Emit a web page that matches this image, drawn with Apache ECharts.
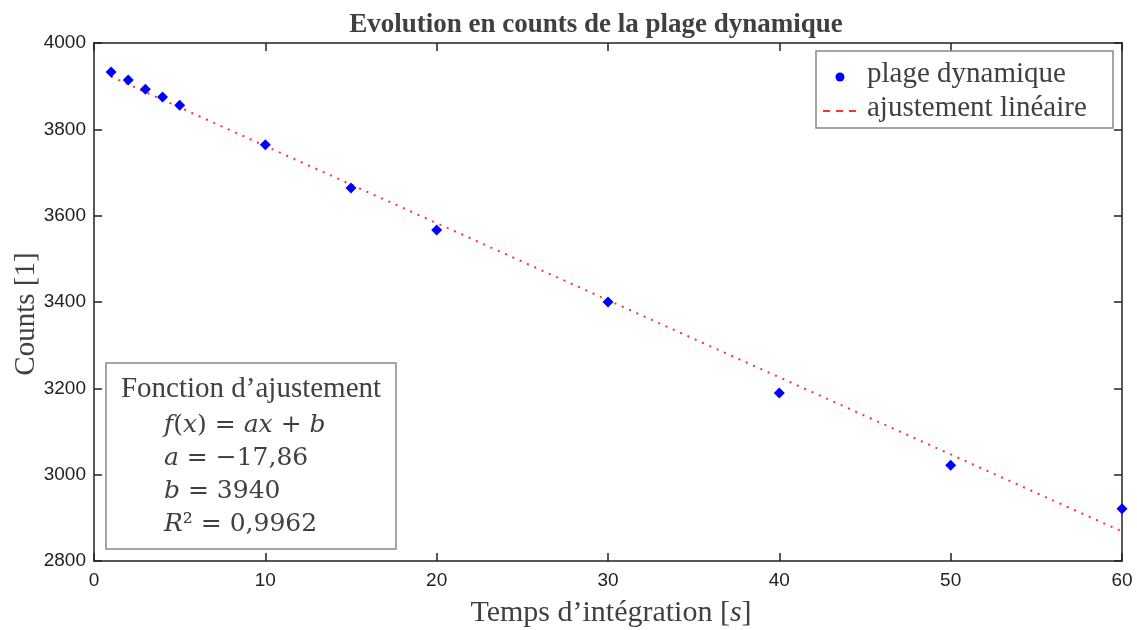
<!DOCTYPE html>
<html>
<head>
<meta charset="utf-8">
<script src="https://cdn.jsdelivr.net/npm/echarts@6/dist/echarts.min.js"></script>
<style>
  html, body { margin: 0; padding: 0; background: #fff; }
  #chart { width: 1137px; height: 630px; }
</style>
</head>
<body>
<div id="chart"></div>
<script>
// Integration time [s] and measured dynamic range [counts]
const integrationTimes = [1, 2, 3, 4, 5, 10, 15, 20, 30, 40, 50, 60];
const dynamicRange = [3933, 3914, 3893, 3875, 3856, 3764, 3664, 3567, 3400, 3189, 3022, 2921];

// Linear fit parameters f(x) = a x + b
const fitA = -17.86;
const fitB = 3940;
const fitR2 = '0,9962';
const fitRange = [1, 60];

const xTicks = [0, 10, 20, 30, 40, 50, 60];
const yTicks = [2800, 3000, 3200, 3400, 3600, 3800, 4000];

const pointData = integrationTimes.map((t, i) => [t, dynamicRange[i]]);
const fitData = fitRange.map(t => [t, fitA * t + fitB]);

const serif = '"Liberation Serif", "Times New Roman", serif';
const mathFont = '"DejaVu Serif", serif';
const sans = '"Liberation Sans", Arial, sans-serif';
const axisColor = '#222';
const textColor = '#404040';

const chart = echarts.init(document.getElementById('chart'), null, { renderer: 'canvas' });

const baseX = {
  type: 'value', min: xTicks[0], max: xTicks[xTicks.length - 1], interval: 10,
  axisLine: { onZero: false, lineStyle: { color: axisColor, width: 1.5 } },
  axisTick: { inside: true, length: 8, lineStyle: { color: axisColor, width: 1.5 } },
  splitLine: { show: false }
};
const baseY = {
  type: 'value', min: yTicks[0], max: yTicks[yTicks.length - 1], interval: 200,
  axisLine: { onZero: false, lineStyle: { color: axisColor, width: 1.5 } },
  axisTick: { inside: true, length: 8, lineStyle: { color: axisColor, width: 1.5 } },
  splitLine: { show: false }
};

const legendX = 816, legendY = 51;
const boxX = 106, boxY = 363;
const mathRich = { i: { fontFamily: mathFont, fontStyle: 'italic', fontSize: 25, fill: textColor } };

chart.setOption({
  animation: false,
  backgroundColor: '#fff',
  title: {
    text: 'Evolution en counts de la plage dynamique',
    left: 591, top: 7, textAlign: 'center',
    textStyle: { fontFamily: serif, fontWeight: 'bold', fontSize: 27, color: textColor }
  },
  grid: { left: 94, right: 15, top: 43, bottom: 69, containLabel: false },
  xAxis: [
    Object.assign({}, baseX, {
      position: 'bottom',
      axisLabel: { show: true, margin: 10, fontFamily: sans, fontSize: 19, color: axisColor }
    }),
    Object.assign({}, baseX, { position: 'top', axisLabel: { show: false } })
  ],
  yAxis: [
    Object.assign({}, baseY, {
      position: 'left',
      axisLabel: { show: true, margin: 8, fontFamily: sans, fontSize: 19, color: axisColor,
                   formatter: v => String(v) }
    }),
    Object.assign({}, baseY, { position: 'right', axisLabel: { show: false } })
  ],
  series: [
    {
      name: 'ajustement linéaire', type: 'line', data: fitData,
      showSymbol: false, symbol: 'none', silent: true, z: 2,
      lineStyle: { color: '#ff3030', width: 2, type: [2, 6] }
    },
    {
      name: 'plage dynamique', type: 'scatter', data: pointData,
      symbol: 'diamond', symbolSize: 11, z: 3,
      itemStyle: { color: '#0000ff', opacity: 1 }
    }
  ],
  graphic: [
    // axis names
    {
      type: 'text', x: 26, y: 314, rotation: Math.PI / 2,
      style: { text: 'Counts [1]', font: '29px ' + serif, fill: textColor, align: 'center', verticalAlign: 'middle' }
    },
    {
      type: 'text', x: 611, y: 613,
      style: {
        text: "Temps d’intégration [{i|s}]",
        font: '30px ' + serif, fill: textColor, align: 'center', verticalAlign: 'middle',
        rich: { i: { fontFamily: serif, fontStyle: 'italic', fontSize: 30, fill: textColor } }
      }
    },
    // legend
    {
      type: 'rect', shape: { x: legendX, y: legendY, width: 297, height: 77 },
      style: { fill: '#fff', stroke: '#888', lineWidth: 1.5 }, z: 10
    },
    {
      type: 'circle', shape: { cx: 840, cy: 77, r: 4.5 },
      style: { fill: '#0000ff' }, z: 11
    },
    {
      type: 'line', shape: { x1: 823, y1: 111, x2: 861, y2: 111 },
      style: { stroke: '#ff3030', lineWidth: 2, lineDash: [7, 6] }, z: 11
    },
    {
      type: 'text', x: 867, y: 74, z: 11,
      style: { text: 'plage dynamique', font: '29px ' + serif, fill: textColor, verticalAlign: 'middle' }
    },
    {
      type: 'text', x: 867, y: 108, z: 11,
      style: { text: 'ajustement linéaire', font: '29px ' + serif, fill: textColor, verticalAlign: 'middle' }
    },
    // fit annotation box
    {
      type: 'rect', shape: { x: boxX, y: boxY, width: 290, height: 186 },
      style: { fill: '#fff', stroke: '#888', lineWidth: 1.5 }, z: 10
    },
    {
      type: 'text', x: 251, y: 389, z: 11,
      style: { text: 'Fonction d’ajustement', font: '29px ' + serif, fill: textColor, align: 'center', verticalAlign: 'middle' }
    },
    {
      type: 'text', x: 164, y: 425, z: 11,
      style: {
        text: '{i|f}({i|x}) = {i|ax} + {i|b}',
        font: '25px ' + mathFont, fill: textColor, verticalAlign: 'middle', rich: mathRich
      }
    },
    {
      type: 'text', x: 164, y: 458, z: 11,
      style: {
        text: '{i|a} = −' + String(Math.abs(fitA)).replace('.', ','),
        font: '25px ' + mathFont, fill: textColor, verticalAlign: 'middle', rich: mathRich
      }
    },
    {
      type: 'text', x: 164, y: 491, z: 11,
      style: {
        text: '{i|b} = ' + fitB,
        font: '25px ' + mathFont, fill: textColor, verticalAlign: 'middle', rich: mathRich
      }
    },
    {
      type: 'text', x: 164, y: 524, z: 11,
      style: {
        text: '{i|R}² = ' + fitR2,
        font: '25px ' + mathFont, fill: textColor, verticalAlign: 'middle', rich: mathRich
      }
    }
  ]
});
</script>
</body>
</html>
